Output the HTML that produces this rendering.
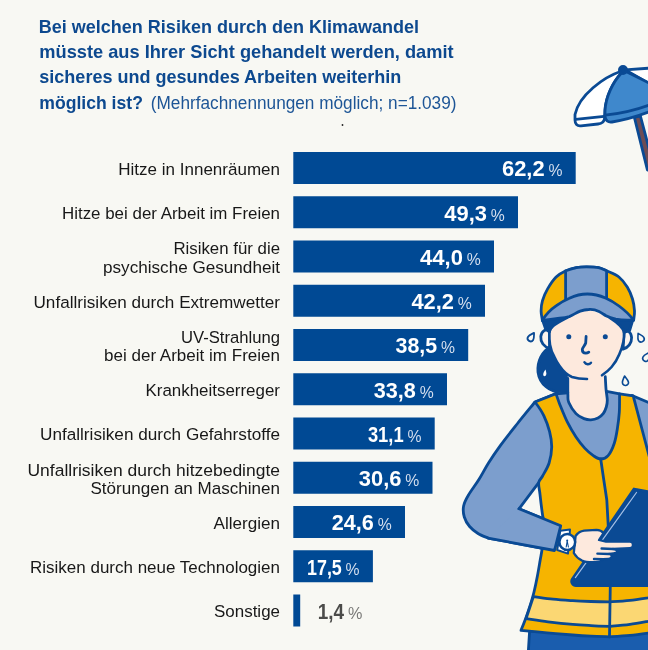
<!DOCTYPE html>
<html lang="de"><head><meta charset="utf-8"><title>Klimawandel Risiken</title>
<style>html,body{margin:0;padding:0;background:#f8f8f3}body{width:648px;height:650px;overflow:hidden;position:relative}svg{position:absolute;left:0;top:0;display:block}text{font-family:"Liberation Sans",sans-serif}</style></head><body>
<svg width="648" height="650" viewBox="0 0 648 650">
<rect width="648" height="650" fill="#f8f8f3"/>
<text x="38.8" y="32.8" textLength="380.2" lengthAdjust="spacingAndGlyphs" font-size="18.5" font-weight="700" fill="#0d498f">Bei welchen Risiken durch den Klimawandel</text>
<text x="39.3" y="58.0" textLength="414.3" lengthAdjust="spacingAndGlyphs" font-size="18.5" font-weight="700" fill="#0d498f">müsste aus Ihrer Sicht gehandelt werden, damit</text>
<text x="39.3" y="83.3" textLength="362.0" lengthAdjust="spacingAndGlyphs" font-size="18.5" font-weight="700" fill="#0d498f">sicheres und gesundes Arbeiten weiterhin</text>
<text x="39.3" y="108.5" textLength="103.6" lengthAdjust="spacingAndGlyphs" font-size="18.5" font-weight="700" fill="#0d498f">möglich ist?</text>
<text x="150.8" y="108.5" textLength="305.7" lengthAdjust="spacingAndGlyphs" font-size="17.5" font-weight="400" fill="#1d5596">(Mehrfachnennungen möglich; n=1.039)</text>
<circle cx="342.5" cy="125" r="0.9" fill="#222"/>
<rect x="293.3" y="152.00" width="282.4" height="32" fill="#004994"/>
<text x="118.3" y="174.9" textLength="161.7" lengthAdjust="spacingAndGlyphs" font-size="17.2" font-weight="400" fill="#181818">Hitze in Innenräumen</text>
<text x="502.0" y="176.4" textLength="42.6" lengthAdjust="spacingAndGlyphs" font-size="22" font-weight="700" fill="#ffffff">62,2</text>
<text x="548.4" y="176.3" textLength="14.0" lengthAdjust="spacingAndGlyphs" font-size="17" font-weight="400" fill="#d3deee">%</text>
<rect x="293.3" y="196.25" width="224.7" height="32" fill="#004994"/>
<text x="62.0" y="219.2" textLength="218.0" lengthAdjust="spacingAndGlyphs" font-size="17.2" font-weight="400" fill="#181818">Hitze bei der Arbeit im Freien</text>
<text x="444.3" y="220.7" textLength="42.6" lengthAdjust="spacingAndGlyphs" font-size="22" font-weight="700" fill="#ffffff">49,3</text>
<text x="490.7" y="220.6" textLength="14.0" lengthAdjust="spacingAndGlyphs" font-size="17" font-weight="400" fill="#d3deee">%</text>
<rect x="293.3" y="240.50" width="200.7" height="32" fill="#004994"/>
<text x="173.4" y="254.3" textLength="106.6" lengthAdjust="spacingAndGlyphs" font-size="17.2" font-weight="400" fill="#181818">Risiken für die</text>
<text x="103.0" y="272.5" textLength="177.0" lengthAdjust="spacingAndGlyphs" font-size="17.2" font-weight="400" fill="#181818">psychische Gesundheit</text>
<text x="420.1" y="264.9" textLength="42.8" lengthAdjust="spacingAndGlyphs" font-size="22" font-weight="700" fill="#ffffff">44,0</text>
<text x="466.7" y="264.8" textLength="14.0" lengthAdjust="spacingAndGlyphs" font-size="17" font-weight="400" fill="#d3deee">%</text>
<rect x="293.3" y="284.75" width="191.7" height="32" fill="#004994"/>
<text x="33.5" y="307.6" textLength="246.5" lengthAdjust="spacingAndGlyphs" font-size="17.2" font-weight="400" fill="#181818">Unfallrisiken durch Extremwetter</text>
<text x="411.4" y="309.1" textLength="42.5" lengthAdjust="spacingAndGlyphs" font-size="22" font-weight="700" fill="#ffffff">42,2</text>
<text x="457.7" y="309.1" textLength="14.0" lengthAdjust="spacingAndGlyphs" font-size="17" font-weight="400" fill="#d3deee">%</text>
<rect x="293.3" y="329.00" width="174.9" height="32" fill="#004994"/>
<text x="181.0" y="342.8" textLength="99.0" lengthAdjust="spacingAndGlyphs" font-size="17.2" font-weight="400" fill="#181818">UV-Strahlung</text>
<text x="104.0" y="361.0" textLength="176.0" lengthAdjust="spacingAndGlyphs" font-size="17.2" font-weight="400" fill="#181818">bei der Arbeit im Freien</text>
<text x="395.5" y="353.4" textLength="41.6" lengthAdjust="spacingAndGlyphs" font-size="22" font-weight="700" fill="#ffffff">38,5</text>
<text x="440.9" y="353.3" textLength="14.0" lengthAdjust="spacingAndGlyphs" font-size="17" font-weight="400" fill="#d3deee">%</text>
<rect x="293.3" y="373.25" width="153.7" height="32" fill="#004994"/>
<text x="145.5" y="396.1" textLength="134.5" lengthAdjust="spacingAndGlyphs" font-size="17.2" font-weight="400" fill="#181818">Krankheitserreger</text>
<text x="373.8" y="397.6" textLength="42.1" lengthAdjust="spacingAndGlyphs" font-size="22" font-weight="700" fill="#ffffff">33,8</text>
<text x="419.7" y="397.6" textLength="14.0" lengthAdjust="spacingAndGlyphs" font-size="17" font-weight="400" fill="#d3deee">%</text>
<rect x="293.3" y="417.50" width="141.4" height="32" fill="#004994"/>
<text x="40.0" y="440.4" textLength="240.0" lengthAdjust="spacingAndGlyphs" font-size="17.2" font-weight="400" fill="#181818">Unfallrisiken durch Gefahrstoffe</text>
<text x="367.9" y="441.9" textLength="35.7" lengthAdjust="spacingAndGlyphs" font-size="22" font-weight="700" fill="#ffffff">31,1</text>
<text x="407.4" y="441.8" textLength="14.0" lengthAdjust="spacingAndGlyphs" font-size="17" font-weight="400" fill="#d3deee">%</text>
<rect x="293.3" y="461.75" width="139.2" height="32" fill="#004994"/>
<text x="27.5" y="475.6" textLength="252.5" lengthAdjust="spacingAndGlyphs" font-size="17.2" font-weight="400" fill="#181818">Unfallrisiken durch hitzebedingte</text>
<text x="90.5" y="493.8" textLength="189.5" lengthAdjust="spacingAndGlyphs" font-size="17.2" font-weight="400" fill="#181818">Störungen an Maschinen</text>
<text x="358.8" y="486.1" textLength="42.6" lengthAdjust="spacingAndGlyphs" font-size="22" font-weight="700" fill="#ffffff">30,6</text>
<text x="405.2" y="486.1" textLength="14.0" lengthAdjust="spacingAndGlyphs" font-size="17" font-weight="400" fill="#d3deee">%</text>
<rect x="293.3" y="506.00" width="111.7" height="32" fill="#004994"/>
<text x="213.5" y="528.9" textLength="66.5" lengthAdjust="spacingAndGlyphs" font-size="17.2" font-weight="400" fill="#181818">Allergien</text>
<text x="331.8" y="530.4" textLength="42.1" lengthAdjust="spacingAndGlyphs" font-size="22" font-weight="700" fill="#ffffff">24,6</text>
<text x="377.7" y="530.3" textLength="14.0" lengthAdjust="spacingAndGlyphs" font-size="17" font-weight="400" fill="#d3deee">%</text>
<rect x="293.3" y="550.25" width="79.6" height="32" fill="#004994"/>
<text x="30.0" y="573.1" textLength="250.0" lengthAdjust="spacingAndGlyphs" font-size="17.2" font-weight="400" fill="#181818">Risiken durch neue Technologien</text>
<text x="307.0" y="574.6" textLength="34.8" lengthAdjust="spacingAndGlyphs" font-size="22" font-weight="700" fill="#ffffff">17,5</text>
<text x="345.6" y="574.5" textLength="14.0" lengthAdjust="spacingAndGlyphs" font-size="17" font-weight="400" fill="#d3deee">%</text>
<rect x="293.3" y="594.50" width="6.9" height="32" fill="#004994"/>
<text x="214.0" y="617.4" textLength="66.0" lengthAdjust="spacingAndGlyphs" font-size="17.2" font-weight="400" fill="#181818">Sonstige</text>
<text x="317.7" y="618.9" textLength="26.3" lengthAdjust="spacingAndGlyphs" font-size="22" font-weight="700" fill="#4b4b49">1,4</text>
<text x="348.1" y="618.8" textLength="14.4" lengthAdjust="spacingAndGlyphs" font-size="17" font-weight="400" fill="#7a7a78">%</text>
<g id="ill" stroke="#0a4a94" stroke-width="2.8" stroke-linejoin="round" stroke-linecap="round" fill="none">
<!-- umbrella pole -->
<path d="M634.4 117.5 L647.4 170 L652 170 L652 160 L640.4 116 Z" fill="#6d4c55"/>
<!-- umbrella right white panel -->
<path d="M625 69.8 L652 68 L652 85 Z" fill="#ffffff"/>
<!-- umbrella left white panel -->
<path d="M620.5 71.5 C604 77 579 95 575 114.5 L575 120 C575 124 577 126.3 581 125.8 L598 124 C602 123.6 604.4 121.5 604.6 118 L605 110 C606 96 613 82 621.5 73 Z" fill="#ffffff"/>
<path d="M575.6 119.4 L604.2 116.4"/>
<!-- umbrella blue panel -->
<path d="M621.5 73 C613 82 605.5 97 605 111 L605 116.5 C605.5 120.5 608 122.6 612 122 C626 119.8 640 115.5 652 110.8 L652 84.5 L626 71.5 Z" fill="#3f88cc"/>
<path d="M605 115.2 C622 113.5 638 109.5 652 104"/>
<circle cx="623" cy="70" r="3.6" fill="#0a4a94"/>

<!-- ===== worker ===== -->
<!-- ponytail -->
<path d="M549.5 347.5 C542.5 351.5 537 361 538 372 C539.5 384 550 392.5 562 392.5 L572 392.5 L572 350 Z" fill="#0a4a94"/>
<path d="M545.6 369.5 C544 371.5 542.6 374 543.4 375.6 C544.4 377 546.4 376 546.4 373.6 Z" fill="#ffffff" stroke="none"/>
<!-- whole arm + shoulder (behind vest) -->
<path d="M556 393.5 L535.0 402.0 C532.1 405.6 523.2 416.3 517.5 423.5 C511.8 430.7 505.3 438.8 500.5 445.4 C495.7 452.0 492.1 457.3 488.5 463.0 C484.9 468.7 482.2 474.2 478.9 479.5 C475.6 484.8 471.1 490.6 468.5 495.0 C465.9 499.4 464.3 502.3 463.6 506.0 C462.9 509.7 463.3 513.6 464.3 517.0 C465.3 520.4 467.3 523.8 469.6 526.5 C471.9 529.2 474.9 531.6 478.0 533.5 C481.1 535.4 486.4 537.3 488.1 538.1 L554.5 550.5 L560.7 525.8 L519 508.8 L538.7 482.6 L560 470 Z" fill="#7c9ecd"/>
<!-- right sleeve -->
<path d="M632 395.5 L652 404 L652 460 L640 440 Z" fill="#7c9ecd"/>
<!-- pants -->
<path d="M529.6 631 L528.3 652 L652 652 L652 630 Z" fill="#1a5dae"/>
<!-- shirt (torso, visible in V) -->
<path d="M554 394 L559.5 392.8 L567 392.6 L607 391.4 L621 394 L624 440 L608 464 L592 464 L556 412 Z" fill="#7c9ecd" stroke="none"/>
<!-- neck -->
<path d="M567.8 372 L567.8 378.5 C567.8 381.2 567.7 391.0 567.9 395.0 C568.1 399.0 567.4 399.4 568.8 402.5 C570.1 405.6 573.5 410.9 576.0 413.6 C578.5 416.3 581.5 417.6 584.0 418.6 C586.5 419.6 588.6 419.9 590.9 419.8 C593.2 419.7 596.0 419.0 598.0 418.0 C600.0 417.0 601.8 415.4 603.2 413.6 C604.6 411.8 605.6 409.3 606.3 407.0 C607.0 404.7 607.3 403.0 607.3 400.0 C607.2 397.0 606.3 392.9 606.0 389.0 C605.7 385.1 605.4 378.8 605.3 376.7 L605.3 372 Z" fill="#fde9dd" stroke="none"/>
<path d="M567.8 378.5 C567.8 381.2 567.7 391.0 567.9 395.0 C568.1 399.0 567.4 399.4 568.8 402.5 C570.1 405.6 573.5 410.9 576.0 413.6 C578.5 416.3 581.5 417.6 584.0 418.6 C586.5 419.6 588.6 419.9 590.9 419.8 C593.2 419.7 596.0 419.0 598.0 418.0 C600.0 417.0 601.8 415.4 603.2 413.6 C604.6 411.8 605.6 409.3 606.3 407.0 C607.0 404.7 607.3 403.0 607.3 400.0 C607.2 397.0 606.3 392.9 606.0 389.0 C605.7 385.1 605.4 378.8 605.3 376.7"/>
<path d="M556 393.8 L567.8 392.8 M606.6 391.4 L619.6 393.8"/>
<!-- vest -->
<path d="M535 402 L556.0 393.8 C556.7 395.6 558.1 400.2 560.0 404.9 C561.9 409.6 564.7 416.8 567.4 422.2 C570.1 427.6 573.1 432.7 576.0 437.0 C578.9 441.3 581.8 445.0 584.7 448.1 C587.6 451.2 590.6 453.8 593.3 455.6 C596.0 457.4 598.2 459.0 600.7 459.0 C603.2 459.0 605.8 458.2 608.1 455.6 C610.4 453.0 612.8 447.7 614.3 443.2 C615.8 438.7 616.6 433.5 617.4 428.4 C618.2 423.2 618.9 418.1 619.3 412.3 C619.7 406.5 619.5 396.9 619.6 393.8 L633.2 395.8 L640.5 423.5 L652 467 L652 632.6 C648.3 633.1 637.1 634.7 630.0 635.4 C622.9 636.1 612.9 636.6 609.5 636.8 C606.4 636.7 597.1 636.5 591.0 636.2 C584.9 635.9 580.1 635.6 572.8 635.0 C565.5 634.4 555.6 633.6 547.0 632.8 C538.4 632.0 525.3 630.7 521.0 630.3 C521.8 628.4 524.0 623.0 525.5 619.0 C527.0 615.0 528.6 610.5 530.0 606.0 C531.4 601.5 532.8 597.0 534.0 592.0 C535.2 587.0 536.4 581.3 537.4 576.0 C538.4 570.7 539.3 565.2 540.2 560.0 C541.1 554.8 542.0 551.2 542.6 545.0 C543.2 538.8 544.0 528.0 544.0 523.0 C544.0 518.0 543.3 520.1 542.6 515.3 C541.9 510.5 540.6 499.8 540.0 494.3 C539.4 488.9 538.3 485.7 538.7 482.6 C539.1 479.6 540.9 479.3 542.6 476.0 C544.3 472.7 547.6 467.8 549.1 463.0 C550.6 458.2 551.6 452.5 551.7 447.3 C551.8 442.1 550.9 436.8 549.6 431.6 C548.3 426.4 546.2 420.8 543.9 415.9 C541.6 411.0 537.0 404.6 535 402 Z" fill="#f6b400"/>
<!-- reflective stripe -->
<path d="M533.4 596.6 C536.7 597.0 546.4 598.5 553.0 599.2 C559.6 599.9 566.5 600.3 572.8 600.7 C579.1 601.1 584.9 601.3 591.0 601.5 C597.1 601.7 606.4 601.8 609.5 601.8 C612.9 601.6 622.9 601.2 630.0 600.4 C637.1 599.6 648.3 597.7 652.0 597.2 L652 620.6 C648.3 621.2 637.1 623.4 630.0 624.4 C622.9 625.4 612.9 626.1 609.5 626.4 C606.4 626.3 597.1 626.0 591.0 625.6 C584.9 625.2 580.0 624.9 572.8 624.3 C565.6 623.7 555.8 622.7 548.0 621.8 C540.2 620.9 529.7 619.2 526.0 618.7 Z" fill="#fbd773"/>
<!-- zipper -->
<path d="M600.7 459 L603.8 480 L606.8 500 L609.3 545 L610.3 585.6 L609.5 636.8"/>
<!-- forearm over vest -->
<path d="M519 508.8 L560.7 525.8 L554.5 550.5 L488.1 538.1 Z" fill="#7c9ecd" stroke="none"/>
<path d="M519 508.8 L560.7 525.8 L554.5 550.5 L488.1 538.1"/>
<!-- clipboard -->
<path d="M634 489 L652 492.5 L652 585.6 L576 585.6 C572.5 585.6 570.6 582 572.4 579 Z" fill="#0a4a94"/>
<path d="M636.5 492.5 L575.4 577.6" stroke="#a3bfe5" stroke-width="1.2"/>
<!-- watch strap -->
<path d="M560.3 530.8 L570 529.6 L568 553.6 L557.2 550 Z" fill="#ffffff" stroke-width="2"/>
<!-- hand -->
<path d="M575.6 536 C578 532.5 581 531 584.1 530.6 L596.5 529.8 C599.5 529.8 602 531 603.5 533 L599 540 L606 541.6 L630 541.6 C634 541.8 634 548 630 548.2 L613 549 C618.5 549.6 618.5 553 613.5 553.4 L609 554 C613 555 612.5 558.6 608.5 558.8 L603 559.2 C601 561.5 598 562.3 594.9 562.2 C589 562.4 585 562 582 560.6 C578.5 558.8 575.5 556 573.8 553 Z" fill="#fde9dd" stroke-width="2.3"/>
<path d="M601.6 548.5 L613 549 M597.4 553.6 L609 554 M594 559 L603 559.2" stroke-width="2.4"/>
<!-- watch -->
<circle cx="567.3" cy="542" r="7.9" fill="#ffffff" stroke-width="2.5"/>
<path d="M567.2 541 L566.2 547 M567.2 541 L568.4 547" stroke-width="1.1"/><circle cx="567.2" cy="540.6" r="1" fill="#0a4a94" stroke="none"/>

<!-- ears -->
<path d="M549.5 330.5 C546 328.5 541.5 331 540.8 336.5 C540.3 342 544 347 549.5 348.2 Z" fill="#faf3ee"/>
<path d="M624.2 331.6 C627.5 329.6 631.2 332 631.6 337.6 C631.8 343 628.2 347.6 623 349.2 Z" fill="#faf3ee"/>
<!-- face -->
<path d="M553 326 C550 328.5 549.2 330 549.4 333 C549.3 337 549.4 341 550 344.6 C550.8 349 552.2 353 554.2 356.5 C555.8 360 557.4 363 559.6 366 C563 371 567 375 572 377 C577 378.6 582 379 587 379 L602 375.3 C606 372.5 609 370 611.6 367 C615 363 617.4 359 619.2 354.5 C621 350.5 622.5 346.5 623.3 342 C624 338.6 624.2 335.5 624 332.3 C623 328 621.5 326.5 619.9 325.4 L610 317.8 L588.8 309.5 L569.4 316.5 Z" fill="#fde9dd" stroke="none"/>
<path d="M553 326 C550 328.5 549.2 330 549.4 333 C549.3 337 549.4 341 550 344.6 C550.8 349 552.2 353 554.2 356.5 C555.8 360 557.4 363 559.6 366 C563 371 567 375 572 377 C577 378.6 582 379 587 379" stroke-width="2.6"/>
<path d="M602 375.3 C606 372.5 609 370 611.6 367 C615 363 617.4 359 619.2 354.5 C621 350.5 622.5 346.5 623.3 342 C624 338.6 624.2 335.5 624 332.3" stroke-width="2.6"/>
<!-- hair -->
<path d="M542.6 320.4 L569.4 316.5 C563 319.6 557 323 553 326 C550.4 328 549.4 330 549.4 332 L545.6 329 Z" fill="#0a4a94"/>
<path d="M632.8 320 L610 317.8 C614 320.4 617.5 323 619.9 325.4 C622.5 328 623.6 330 624 332.3 L629.6 330.5 Z" fill="#0a4a94"/>
<!-- cap dome -->
<path d="M542.4 320.6 C542.2 319.0 541.1 314.2 541.1 310.9 C541.1 307.6 541.4 304.4 542.5 300.7 C543.6 297.0 545.3 292.8 547.6 288.9 C549.9 284.9 553.1 280.0 556.1 277.0 C559.1 274.0 562.0 272.6 565.4 271.0 C568.8 269.4 572.9 268.3 576.4 267.6 C579.9 266.9 582.9 266.8 586.6 266.8 C590.3 266.8 595.1 266.9 598.5 267.6 C601.9 268.3 603.6 269.4 607.0 271.0 C610.4 272.6 615.5 274.3 618.9 277.0 C622.3 279.7 625.1 283.5 627.4 287.2 C629.7 290.9 631.3 295.1 632.5 299.0 C633.7 302.9 634.3 307.3 634.5 310.9 C634.7 314.5 633.8 318.8 633.6 320.4 L587.3 300 Z" fill="#f6b400"/>
<!-- cap centre panel -->
<path d="M565.6 270.9 C567.4 270.3 572.9 268.3 576.4 267.6 C579.9 266.9 582.9 266.8 586.6 266.8 C590.3 266.8 595.2 266.9 598.5 267.6 C601.8 268.3 605.2 270.3 606.6 270.8 L606.6 300 L565.6 300 Z" fill="#7c9ecd"/>
<!-- brim -->
<path d="M542.8 319.6 C547 313 551.5 309 556.4 305.7 C560.5 302.6 565 300 569.4 298.2 C575 295.6 581 294 587.3 294 C594 294 600 295.6 605.5 298 C610.5 300.2 615 303 619 306 C624.5 310 629.5 314.5 633.4 320 C627 320.4 621 320.2 615.7 319.2 C612 318.3 609 317.3 606 315.7 C603.5 314.2 601.5 312.8 599 311.5 C595.5 309.8 592 309.3 588.8 309.5 C585.6 309.6 582.8 310.2 580.2 311.1 C576.5 312.6 573 315 569.4 316.5 C566 317.6 563 317.9 559.6 318.1 C554 318.8 548.5 319.6 542.8 320.3 Z" fill="#7c9ecd"/>
<!-- eyes, nose, mouth -->
<circle cx="568.8" cy="336.8" r="2.5" fill="#0a4a94" stroke="none"/>
<circle cx="605.3" cy="336.8" r="2.5" fill="#0a4a94" stroke="none"/>
<path d="M586.1 336.5 L585.7 343 C584.8 346 582.3 347.5 582.3 349.6 C582.3 352 584 353.2 585.8 353.2 C587 353.2 588 352.8 588.8 352.2"/>
<path d="M584.4 362.2 C586 364.8 589.2 365 591 362.8" stroke-width="2.4"/>
<!-- sweat drops -->
<g stroke-width="1.8" fill="#f8f8f3">
<path transform="translate(531.2,337.4) rotate(32)" d="M0 -5.4 C1.6 -2.7 3 -0.9 3 1.1 A3 3 0 1 1 -3 1.1 C-3 -0.9 -1.6 -2.7 0 -5.4 Z"/>
<path transform="translate(640.6,338) rotate(-28) scale(0.88)" d="M0 -6 C1.8 -3 3.5 -1 3.5 1.2 A3.5 3.5 0 1 1 -3.5 1.2 C-3.5 -1 -1.8 -3 0 -6 Z"/>
<path transform="translate(646.3,357.3) rotate(28) scale(0.88)" d="M0 -6 C1.8 -3 3.5 -1 3.5 1.2 A3.5 3.5 0 1 1 -3.5 1.2 C-3.5 -1 -1.8 -3 0 -6 Z"/>
<path transform="translate(625.3,381.4) rotate(-8) scale(0.9)" d="M0 -6 C1.8 -3 3.4 -1 3.4 1.2 A3.4 3.4 0 1 1 -3.4 1.2 C-3.4 -1 -1.8 -3 0 -6 Z"/>
</g>
</g>

</svg></body></html>
